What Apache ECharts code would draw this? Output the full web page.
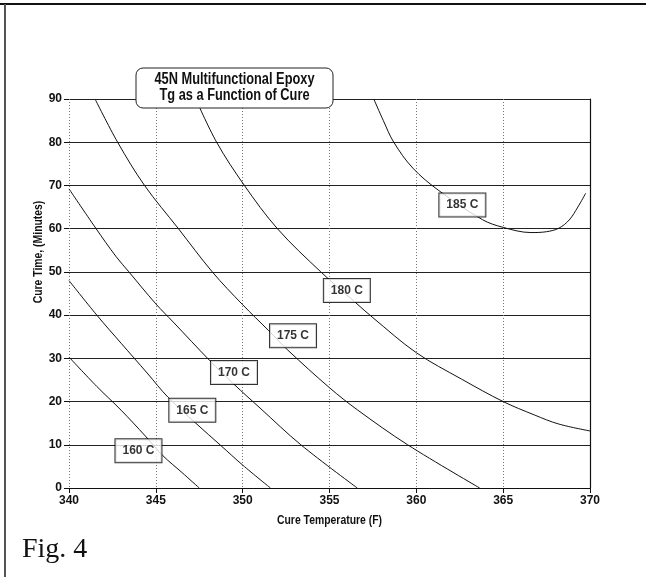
<!DOCTYPE html>
<html>
<head>
<meta charset="utf-8">
<script src="https://cdn.jsdelivr.net/npm/echarts@6/dist/echarts.min.js"></script>
<style>
  html, body { margin: 0; padding: 0; background: #fff; }
  #chart { width: 646px; height: 577px; }
</style>
</head>
<body>
<div id="chart"></div>
<script>
// Axis ticks
const xTicks = [340, 345, 350, 355, 360, 365, 370];
const yTicks = [0, 10, 20, 30, 40, 50, 60, 70, 80, 90];

// Iso-Tg curves: [cure temperature (F), cure time (min)]
const curve160 = [[340,30.3],[341.6,23.5],[343,18],[344.4,12],[345.4,7.5],[346.5,3.6],[347.5,0]];
const curve165 = [[340,48],[341.6,40],[343,33.5],[344.5,26.6],[345.7,21],[347.3,15],[348.75,9.8],[350,5.3],[351.6,0]];
const curve170 = [[340,69.2],[341.56,60],[342.7,53.6],[343.45,50],[345,42.6],[346,38.4],[348.1,29.5],[349.5,24],[351,18.5],[353.35,10],[356.6,0]];
const curve175 = [[341.5,90],[342.8,80],[344.35,70],[346.3,60],[348.25,50],[350,42.4],[351.5,36.4],[352.6,31.9],[355,23.2],[356.6,18.1],[359.5,10],[363.65,0]];
const curve180 = [[347.3,90],[348.5,80],[350.1,70],[352,60],[354.5,50],[356.5,42.9],[357.5,39.4],[360,31.3],[362.6,25.2],[365,20],[366.8,16.9],[368.2,14.8],[370,13.2]];
const curve185 = [[357.55,90],[358.1,85],[358.7,80],[359.8,74],[361.3,68.8],[363.8,62.1],[365,60.3],[366.6,59.1],[367.5,59.3],[368.2,60.1],[368.8,62],[369.3,65],[369.75,68.2]];

// Curve label boxes: [x, y, text]
const curveLabels = [
  [344.0, 8.6, '160 C'],
  [347.1, 18.0, '165 C'],
  [349.5, 26.7, '170 C'],
  [352.9, 35.2, '175 C'],
  [356.0, 45.7, '180 C'],
  [362.65, 65.5, '185 C']
];

const titleLines = ['45N Multifunctional Epoxy', 'Tg as a Function of Cure'];
const xName = 'Cure Temperature (F)';
const yName = 'Cure Time, (Minutes)';
const figText = 'Fig. 4';

const sans = "'Liberation Sans', Arial, sans-serif";

const curves = [curve160, curve165, curve170, curve175, curve180, curve185];
const curveNames = ['160 C', '165 C', '170 C', '175 C', '180 C', '185 C'];

const chart = echarts.init(document.getElementById('chart'), null, { renderer: 'canvas' });

const series = curves.map((c, i) => ({
  name: curveNames[i],
  type: 'line',
  data: c,
  showSymbol: false,
  smooth: 0.35,
  lineStyle: { color: '#111', width: 1 },
  z: 3,
  silent: true
}));

series.push({
  name: 'labels',
  type: 'scatter',
  data: curveLabels,
  symbolSize: 1,
  itemStyle: { color: 'rgba(0,0,0,0)' },
  z: 10,
  silent: true,
  label: {
    show: true,
    position: 'inside',
    formatter: p => p.data[2],
    fontFamily: sans,
    fontWeight: 'bold',
    fontSize: 12,
    color: '#000',
    backgroundColor: '#fff',
    borderColor: '#000',
    borderWidth: 1,
    padding: [6, 7, 5, 7]
  }
});

const option = {
  backgroundColor: '#fff',
  animation: false,
  grid: { left: 69, right: 56, top: 99, bottom: 89, containLabel: false },
  xAxis: {
    type: 'value',
    min: xTicks[0],
    max: xTicks[xTicks.length - 1],
    interval: 5,
    axisLine: { show: true, lineStyle: { color: '#111', width: 1.2 } },
    axisTick: { show: true, length: 5, inside: false, lineStyle: { color: '#111' } },
    axisLabel: { margin: 7, fontFamily: sans, fontSize: 12, fontWeight: 'bold', color: '#111' },
    splitLine: { show: true, lineStyle: { color: '#777', type: [1, 2], width: 1 } }
  },
  yAxis: [{
    type: 'value',
    min: yTicks[0],
    max: yTicks[yTicks.length - 1],
    interval: 10,
    axisLine: { show: false },
    axisTick: { show: true, length: 5, lineStyle: { color: '#111' } },
    axisLabel: { margin: 7, fontFamily: sans, fontSize: 12, fontWeight: 'bold', color: '#111' },
    splitLine: { show: true, lineStyle: { color: '#222', width: 1.2 } }
  }, {
    type: 'value',
    position: 'right',
    min: yTicks[0],
    max: yTicks[yTicks.length - 1],
    interval: 10,
    axisLine: { show: true, lineStyle: { color: '#111', width: 1.2 } },
    axisTick: { show: false },
    axisLabel: { show: false },
    splitLine: { show: false }
  }],
  graphic: [
    { type: 'line', shape: { x1: 0, y1: 4, x2: 646, y2: 4 }, style: { stroke: '#111', lineWidth: 2 }, z: 50 },
    { type: 'line', shape: { x1: 5, y1: 4, x2: 5, y2: 577 }, style: { stroke: '#555', lineWidth: 2 }, z: 50 },
    { type: 'rect', shape: { x: 136, y: 68, width: 197, height: 40, r: 7 }, style: { fill: '#fff', stroke: '#222', lineWidth: 1 }, z: 100 },
    { type: 'text', x: 234.5, y: 80, scaleX: 0.8, style: { text: titleLines[0], fontFamily: sans, fontSize: 16, fontWeight: 'bold', fill: '#111', align: 'center', verticalAlign: 'middle' }, z: 101 },
    { type: 'text', x: 234.5, y: 96, scaleX: 0.8, style: { text: titleLines[1], fontFamily: sans, fontSize: 16, fontWeight: 'bold', fill: '#111', align: 'center', verticalAlign: 'middle' }, z: 101 },
    { type: 'text', x: 329.5, y: 520, scaleX: 0.8, style: { text: xName, fontFamily: sans, fontSize: 13, fontWeight: 'bold', fill: '#111', align: 'center', verticalAlign: 'middle' }, z: 101 },
    { type: 'text', x: 38, y: 252, rotation: Math.PI / 2, scaleX: 0.8, style: { text: yName, fontFamily: sans, fontSize: 13, fontWeight: 'bold', fill: '#111', align: 'center', verticalAlign: 'middle' }, z: 101 },
    { type: 'text', x: 22, y: 550, style: { text: figText, fontFamily: "'Liberation Serif', 'Times New Roman', serif", fontSize: 28, fill: '#111', align: 'left', verticalAlign: 'middle' }, z: 101 }
  ],
  series: series
};

chart.setOption(option);
</script>
</body>
</html>
